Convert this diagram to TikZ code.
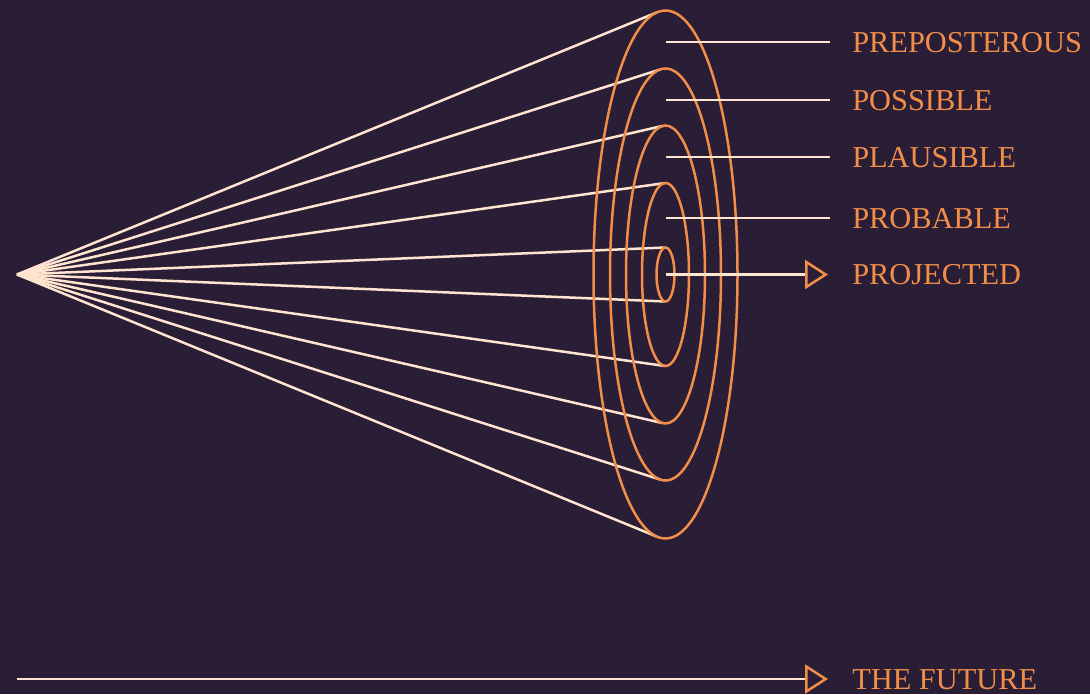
\documentclass[tikz,border=0pt]{standalone}
\usepackage{fontspec}
\setmainfont{Liberation Serif}
\usetikzlibrary{calc,arrows.meta}
\definecolor{NightPlum}{HTML}{2A1D36}
\definecolor{EmberOrange}{HTML}{F28E48}
\definecolor{CreamLine}{HTML}{FFE5D0}

\begin{document}
\begin{tikzpicture}[x=1pt,y=-1pt, line width=2.5pt,
  every node/.style={font=\fontsize{30.4}{36}\selectfont, text=EmberOrange, inner sep=0pt, anchor=west, text height=20pt, text depth=0pt},
  ray/.style={draw=CreamLine},
  ring/.style={draw=EmberOrange},
  pointer/.style={draw=CreamLine, -{Triangle[open, length=23pt, width=29pt, color=EmberOrange]}}]
  \fill[NightPlum] (0,0) rectangle (1090,694);
  \useasboundingbox (0,0) rectangle (1090,694);
  \coordinate (apex) at (17,274.5);
  \coordinate (cen) at (665.5,274.5);
  % cone of futures
  \foreach \rx/\ry in {72/264,55.5/206,39.5/149,23.5/91.5,9/27} {
    \draw[ray] (apex) -- ($(cen)+({90+asin(\rx/648.5)}:{\rx} and {\ry})$);
    \draw[ray] (apex) -- ($(cen)+({270-asin(\rx/648.5)}:{\rx} and {\ry})$);
  }
  \foreach \rx/\ry in {72/264,55.5/206,39.5/149,23.5/91.5,9/27}
    \draw[ring] (cen) ellipse [x radius=\rx, y radius=\ry];
  % labels
  \node (preposterous) at (851,42) {PREPOSTEROUS};
  \node (possible) at (851,100) {POSSIBLE};
  \node (plausible) at (851,157) {PLAUSIBLE};
  \node (probable) at (851,218) {PROBABLE};
  \node (projected) at (851,274.5) {PROJECTED};
  \draw[ray] (cen |- preposterous.west) -- ([xshift=-21]preposterous.west);
  \draw[ray] (cen |- possible.west) -- ([xshift=-21]possible.west);
  \draw[ray] (cen |- plausible.west) -- ([xshift=-21]plausible.west);
  \draw[ray] (cen |- probable.west) -- ([xshift=-21]probable.west);
  \draw[pointer] (cen) -- ([xshift=-23]projected.west);
  % time axis
  \coordinate (now) at (17,679);
  \node (future) at (851,679) {THE FUTURE};
  \draw[pointer] (now) -- ([xshift=-23]future.west);
\end{tikzpicture}
\end{document}
